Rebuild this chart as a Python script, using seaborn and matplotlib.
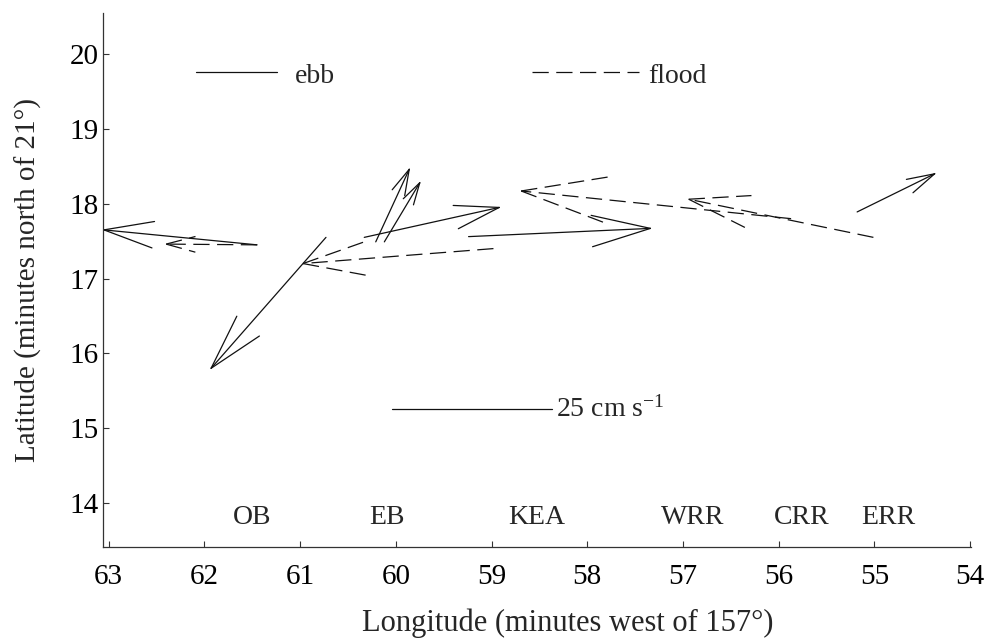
import numpy as np
import pandas as pd
import matplotlib
matplotlib.use("Agg")
import matplotlib.pyplot as plt
import seaborn as sns

# ---------------- data ----------------
# ebb current vectors: station position (lon, lat) and displacement (u, v) in axis units
ebb_lon = [61.45, 60.73, 60.33, 60.21, 60.12, 59.24, 55.18]
ebb_lat = [17.45, 17.55, 17.55, 17.49, 17.49, 17.56, 17.89]
ebb_u = [1.60, 1.20, -1.41, -0.35, -0.37, -1.90, -0.81]
ebb_v = [0.20, -1.75, 0.40, 0.97, 0.79, 0.11, 0.51]

# flood current vectors
flood_lon = [61.45, 58.98, 55.87, 55.01]
flood_lat = [17.45, 17.40, 17.80, 17.55]
flood_u = [0.95, 1.99, 2.82, 1.93]
flood_v = [0.01, -0.20, 0.37, 0.51]

# station labels
station_names = ["OB", "EB", "KEA", "WRR", "CRR", "ERR"]
station_lon = [61.50, 60.09, 58.53, 56.90, 55.76, 54.85]
station_lat = [13.72] * 6

x_ticks = [63, 62, 61, 60, 59, 58, 57, 56, 55, 54]
y_ticks = [14, 15, 16, 17, 18, 19, 20]

# legend / scale bar
ebb_key_lon = [62.09, 61.24]
ebb_key_lat = [19.76, 19.76]
flood_key_lon = [58.58, 57.46]
flood_key_lat = [19.76, 19.76]
scale_lon = [60.04, 58.37]
scale_lat = [15.25, 15.25]

# ---------------- style ----------------
sns.set_theme(style="ticks")
plt.rcParams["font.family"] = ["Liberation Serif", "DejaVu Serif"]
plt.rcParams["mathtext.fontset"] = "custom"
plt.rcParams["mathtext.rm"] = "Liberation Serif"
plt.rcParams["mathtext.it"] = "Liberation Serif:italic"

fig = plt.figure(figsize=(9.95, 6.4), dpi=100)
ax = fig.add_axes([0.1035, 0.1453, 0.8724, 0.8344])
ax.set_xlim(63.06, 53.99)
ax.set_ylim(13.41, 20.55)

LINE_COLOR = "#111111"
DASH = (13, 6)


def arrow_rows(lon, lat, u, v, kind, start_id):
    rows = []
    inv = ax.transData.inverted()
    sid = start_id
    for x0, y0, du, dv in zip(lon, lat, u, v):
        p0 = ax.transData.transform((x0, y0))
        p1 = ax.transData.transform((x0 + du, y0 + dv))
        d = p0 - p1
        L = np.hypot(*d)
        d = d / L
        hl = L / 3.0
        segs = [((x0, y0), (x0 + du, y0 + dv))]
        for s in (1, -1):
            a = np.deg2rad(15) * s
            r = np.array([d[0] * np.cos(a) - d[1] * np.sin(a),
                          d[0] * np.sin(a) + d[1] * np.cos(a)])
            q = inv.transform(p1 + hl * r)
            segs.append(((x0 + du, y0 + dv), (q[0], q[1])))
        for (a0, a1) in segs:
            rows.append({"x": a0[0], "y": a0[1], "seg": sid, "kind": kind})
            rows.append({"x": a1[0], "y": a1[1], "seg": sid, "kind": kind})
            sid += 1
    return rows, sid


rows, nid = arrow_rows(ebb_lon, ebb_lat, ebb_u, ebb_v, "ebb", 0)
rows2, nid = arrow_rows(flood_lon, flood_lat, flood_u, flood_v, "flood", nid)
# keys
for lon_k, lat_k, kind in [(ebb_key_lon, ebb_key_lat, "ebb"),
                           (flood_key_lon, flood_key_lat, "flood"),
                           (scale_lon, scale_lat, "ebb")]:
    rows2.append({"x": lon_k[0], "y": lat_k[0], "seg": nid, "kind": kind})
    rows2.append({"x": lon_k[1], "y": lat_k[1], "seg": nid, "kind": kind})
    nid += 1

df = pd.DataFrame(rows + rows2)

sns.lineplot(data=df, x="x", y="y", units="seg", estimator=None, sort=False,
             style="kind", dashes={"ebb": "", "flood": DASH},
             color=LINE_COLOR, linewidth=0.9, legend=False, ax=ax)

ax.set_xlim(63.06, 53.99)
ax.set_ylim(13.41, 20.55)

# texts
ax.text(61.06, 19.61, "ebb", fontsize=20, ha="left", va="baseline")
ax.text(57.36, 19.61, "flood", fontsize=20, ha="left", va="baseline")
ax.text(58.33, 15.25, r"25 cm s$^{\mathrm{-1}}$", fontsize=20, ha="left", va="center")
for name, lx, ly in zip(station_names, station_lon, station_lat):
    ax.text(lx, ly, name, fontsize=20, ha="center", va="baseline")

ax.set_xticks(x_ticks)
ax.set_xticklabels([str(t) for t in x_ticks])
ax.set_yticks(y_ticks)
ax.set_yticklabels([str(t) for t in y_ticks])
ax.tick_params(axis="both", direction="in", length=4, width=0.8, labelsize=21,
               color="#333333", labelcolor="black")
ax.tick_params(axis="x", pad=12)
ax.tick_params(axis="y", pad=3)

ax.set_xlabel("Longitude (minutes west of 157°)", fontsize=22)
ax.set_ylabel("Latitude (minutes north of 21°)", fontsize=21)
ax.xaxis.set_label_coords(0.535, -0.115)
ax.yaxis.set_label_coords(-0.07, 0.5)

for side in ("top", "right"):
    ax.spines[side].set_visible(False)
for side in ("left", "bottom"):
    ax.spines[side].set_linewidth(0.9)
    ax.spines[side].set_color("#333333")

fig.savefig("out.png", dpi=100)
